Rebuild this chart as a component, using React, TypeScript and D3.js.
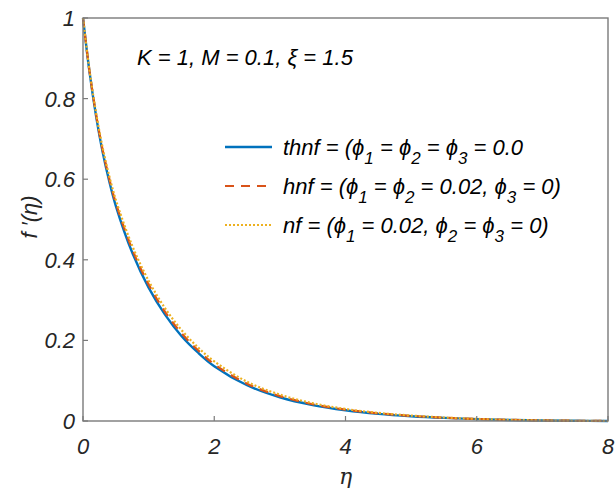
import React from "react";
import * as d3 from "d3";

// similarity variable and velocity profiles f'(η)
const etaValues = [0, 0.1, 0.2, 0.3, 0.4, 0.5, 0.75, 1.0, 1.25, 1.5, 1.75, 2.0, 2.5, 3.0, 3.5, 4.0, 4.5, 5.0, 5.5, 6.0, 6.5, 7.0, 7.5, 8.0];
const thnfValues = [1.0, 0.865, 0.756, 0.667, 0.595, 0.534, 0.418, 0.331, 0.264, 0.211, 0.17, 0.136, 0.0887, 0.0589, 0.0395, 0.0266, 0.0178, 0.0119, 0.0077, 0.0046, 0.0026, 0.0013, 0.0005, 0];
const hnfValues = [1.0, 0.867, 0.76, 0.672, 0.601, 0.541, 0.426, 0.339, 0.271, 0.218, 0.176, 0.141, 0.0925, 0.0618, 0.0416, 0.0281, 0.0189, 0.0127, 0.0082, 0.0049, 0.0028, 0.0014, 0.0006, 0];
const nfValues = [1.0, 0.869, 0.764, 0.678, 0.608, 0.549, 0.435, 0.348, 0.28, 0.226, 0.183, 0.148, 0.0975, 0.0655, 0.0442, 0.0299, 0.0201, 0.0135, 0.0087, 0.0052, 0.003, 0.0015, 0.0006, 0];

const xTicks = [0, 2, 4, 6, 8];
const yTicks = [0, 0.2, 0.4, 0.6, 0.8, 1];
const yTickLabels = ["0", "0.2", "0.4", "0.6", "0.8", "1"];

type Seg = { t: string; sub?: boolean };
const legendLabels: Seg[][] = [
  [{ t: "thnf = (ϕ" }, { t: "1", sub: true }, { t: " = ϕ" }, { t: "2", sub: true }, { t: " = ϕ" }, { t: "3", sub: true }, { t: " = 0.0" }],
  [{ t: "hnf = (ϕ" }, { t: "1", sub: true }, { t: " = ϕ" }, { t: "2", sub: true }, { t: " = 0.02, ϕ" }, { t: "3", sub: true }, { t: " = 0)" }],
  [{ t: "nf = (ϕ" }, { t: "1", sub: true }, { t: " = 0.02, ϕ" }, { t: "2", sub: true }, { t: " = ϕ" }, { t: "3", sub: true }, { t: " = 0)" }],
];

const seriesStyles = [
  { color: "#0072BD", dash: "none", width: 2.4, values: thnfValues },
  { color: "#D95319", dash: "9 7", width: 2.2, values: hnfValues },
  { color: "#EDB120", dash: "2 2", width: 2.2, values: nfValues },
];

const W = 616;
const H = 488;
const left = 83;
const right = 608;
const top = 18;
const bottom = 421;

const FONT = "'Liberation Sans', Arial, sans-serif";

export default function App() {
  const x = d3.scaleLinear().domain([0, 8]).range([left, right]);
  const y = d3.scaleLinear().domain([0, 1]).range([bottom, top]);

  const axisColor = "#7a7a7a";
  const tickColor = "#262626";

  const renderLabel = (segs: Seg[]) =>
    segs.map((s, i) => {
      const prev = i > 0 ? segs[i - 1] : null;
      let dy = 0;
      if (s.sub) dy = 9;
      else if (prev && prev.sub) dy = -9;
      return (
        <tspan key={i} dy={dy} fontSize={s.sub ? 17 : 22}>
          {s.t}
        </tspan>
      );
    });

  const line = d3
    .line<number>()
    .x((_, j) => x(etaValues[j]))
    .y((v) => y(v))
    .curve(d3.curveCatmullRom.alpha(0.5));

  return (
    <svg
      width={W}
      height={H}
      style={{ position: "absolute", left: 0, top: 0, background: "#fff" }}
      fontFamily={FONT}
    >
      <rect x={0} y={0} width={W} height={H} fill="#fff" />

      {seriesStyles.map((s, i) => (
        <path
          key={i}
          d={line(s.values) || ""}
          fill="none"
          stroke={s.color}
          strokeWidth={s.width}
          strokeDasharray={s.dash}
        />
      ))}

      {/* axes box */}
      <rect x={left} y={top} width={right - left} height={bottom - top} fill="none" stroke={axisColor} strokeWidth={1.4} />

      {xTicks.map((t) => (
        <g key={"x" + t}>
          <line x1={x(t)} x2={x(t)} y1={bottom} y2={bottom - 5} stroke={axisColor} strokeWidth={1.2} />
          <text x={x(t)} y={454} textAnchor="middle" fontSize={22} fontStyle="italic" fill={tickColor}>
            {t}
          </text>
        </g>
      ))}
      {yTicks.map((t, i) => (
        <g key={"y" + t}>
          <line x1={left} x2={left + 5} y1={y(t)} y2={y(t)} stroke={axisColor} strokeWidth={1.2} />
          <text x={75} y={y(t) + 8} textAnchor="end" fontSize={22} fontStyle="italic" fill={tickColor}>
            {yTickLabels[i]}
          </text>
        </g>
      ))}

      {/* axis titles */}
      <text x={(left + right) / 2} y={484} textAnchor="middle" fontSize={22} fontStyle="italic" fill={tickColor} fontFamily="'DejaVu Serif', serif">
        η
      </text>
      <text
        transform="translate(37,217) rotate(-90)"
        textAnchor="middle"
        fontSize={22}
        fontStyle="italic"
        fill={tickColor}
      >
        f ′(η)
      </text>

      {/* parameters */}
      <text x={137} y={65} fontSize={22} fontStyle="italic" fill="#000">
        K = 1, M = 0.1, ξ = 1.5
      </text>

      {/* legend */}
      {seriesStyles.map((s, i) => {
        const ly = 147 + i * 39;
        return (
          <g key={"lg" + i}>
            <line x1={225} x2={272} y1={ly} y2={ly} stroke={s.color} strokeWidth={s.width} strokeDasharray={s.dash} />
            <text x={283} y={ly + 8} fontStyle="italic" fill="#000">
              {renderLabel(legendLabels[i])}
            </text>
          </g>
        );
      })}
    </svg>
  );
}
